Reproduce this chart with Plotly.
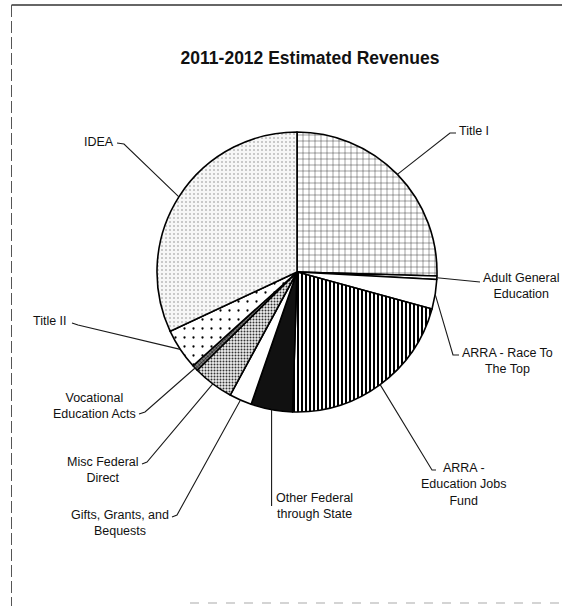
import math
import plotly.graph_objects as go

# Revenue sources, clockwise from 12 o'clock
categories = [
    "Title I",
    "Adult General Education",
    "ARRA - Race To The Top",
    "ARRA - Education Jobs Fund",
    "Other Federal through State",
    "Gifts, Grants, and Bequests",
    "Misc Federal Direct",
    "Vocational Education Acts",
    "Title II",
    "IDEA",
]
# Share of estimated revenue (%)
shares = [25.4, 0.4, 3.4, 21.2, 4.8, 2.6, 4.7, 0.7, 4.7, 31.9]

# Label text (with line breaks) for each slice
label_text = [
    "Title I",
    "Adult General<br>Education",
    "ARRA - Race To<br>The Top",
    "ARRA -<br>Education Jobs<br>Fund",
    "Other Federal<br>through State",
    "Gifts, Grants, and<br>Bequests",
    "Misc Federal<br>Direct",
    "Vocational<br>Education Acts",
    "Title II",
    "IDEA",
]

W, H = 562, 606
CX, CY, R = 297, 272, 140  # pie centre / radius in pixels

# Monochrome fills, one per slice
bg_colors = ["white", "white", "white", "white", "#111111",
             "white", "#eeeeee", "#7a7a7a", "white", "#f7f7f7"]
pat_shapes = ["+", "", "", "|", "", "", ".", "x", ".", "."]
pat_fg = ["#222222", "black", "black", "black", "black",
          "black", "#333333", "black", "black", "#777777"]
pat_size = [6, 8, 8, 4, 8, 8, 3, 3, 9, 4]
pat_solid = [0.14, 0.3, 0.3, 0.5, 0.3, 0.3, 0.35, 0.3, 0.05, 0.09]

fig = go.Figure(
    go.Pie(
        labels=categories,
        values=shares,
        sort=False,
        direction="clockwise",
        rotation=0,
        textinfo="none",
        hoverinfo="label+percent",
        showlegend=False,
        marker=dict(
            colors=bg_colors,
            line=dict(color="black", width=1.6),
            pattern=dict(
                shape=pat_shapes,
                fgcolor=pat_fg,
                bgcolor=bg_colors,
                size=pat_size,
                solidity=pat_solid,
            ),
        ),
        domain=dict(
            x=[(CX - R) / W, (CX + R) / W],
            y=[1 - (CY + R) / H, 1 - (CY - R) / H],
        ),
    )
)


def px(x, y):
    """Pixel position -> paper coordinates."""
    return x / W, 1 - y / H


# Mid-angle of each slice (degrees clockwise from 12 o'clock), from the data
total = sum(shares)
mid_angles = []
acc = 0.0
for v in shares:
    mid_angles.append((acc + v / 2) / total * 360)
    acc += v

# Leader elbows / tick ends (pixels) and text anchors
leader_pts = [
    [(450, 133), (456, 133)],
    [(480, 282)],
    [(453, 355), (459, 355)],
    [(432, 470), (436, 470)],
    [None],  # vertical drop
    [(177, 515), (172, 517)],
    [(147, 462), (142, 464)],
    [(145, 412), (139, 414)],
    [(78, 325), (72, 323)],
    [(124, 144), (117, 143)],
]
text_pos = [
    (457, 131, "left", "middle"),
    (481, 269, "left", "top"),
    (460, 344, "left", "top"),
    (463, 459, "center", "top"),
    (274, 489, "left", "top"),
    (171, 506, "right", "top"),
    (141, 453, "right", "top"),
    (138, 389, "right", "top"),
    (69, 321, "right", "middle"),
    (116, 142, "right", "middle"),
]

shapes = []
annotations = []
for ang, pts, tp, txt in zip(mid_angles, leader_pts, text_pos, label_text):
    a = math.radians(ang)
    ax_, ay_ = CX + R * math.sin(a), CY - R * math.cos(a)
    path_pts = [(ax_, ay_)]
    for p in pts:
        if p is None:
            path_pts.append((ax_, 506))
        else:
            path_pts.append(p)
    d = ""
    for i, (x, y) in enumerate(path_pts):
        xp, yp = px(x, y)
        d += ("M" if i == 0 else " L") + f"{xp:.5f},{yp:.5f}"
    shapes.append(dict(type="path", path=d, xref="paper", yref="paper",
                       line=dict(color="#1a1a1a", width=1.1)))
    x, y, xa, ya = tp
    xp, yp = px(x, y)
    annotations.append(dict(
        x=xp, y=yp, xref="paper", yref="paper", text=txt, showarrow=False,
        xanchor=xa, yanchor=ya, align="center",
        font=dict(family="Liberation Sans, Arial, sans-serif", size=12.5, color="#111111"),
    ))

# Page frame lines
x0, y0 = px(11.5, 5)
x1, _ = px(562, 5)
shapes.append(dict(type="line", xref="paper", yref="paper", x0=x0, y0=y0, x1=x1, y1=y0,
                   line=dict(color="#333333", width=1.5)))
shapes.append(dict(type="line", xref="paper", yref="paper", x0=x0, y0=y0, x1=x0, y1=0,
                   line=dict(color="#555555", width=1, dash="12px,4px")))
bx0, by = px(190, 603)
shapes.append(dict(type="line", xref="paper", yref="paper", x0=bx0, y0=by, x1=1, y1=by,
                   line=dict(color="#aaaaaa", width=1.2, dash="dash")))

tx, ty = px(310, 58)
fig.update_layout(
    width=W,
    height=H,
    margin=dict(l=0, r=0, t=0, b=0),
    paper_bgcolor="white",
    plot_bgcolor="white",
    title=dict(
        text="2011-2012 Estimated Revenues",
        x=tx, y=ty, xanchor="center", yanchor="middle",
        font=dict(family="Liberation Sans, Arial, sans-serif", size=17.5,
                  color="#111111", weight="bold"),
    ),
    shapes=shapes,
    annotations=annotations,
)

fig.write_html("out.html")
